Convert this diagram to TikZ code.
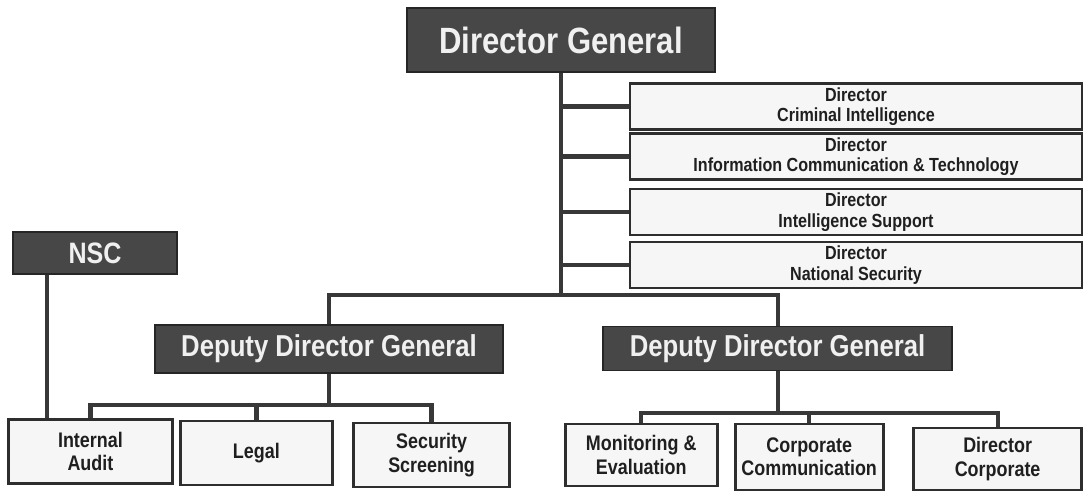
\documentclass[tikz,border=0pt]{standalone}
\usepackage{fontspec}
\newfontfamily\orgfont{Liberation Sans}[FakeStretch=0.85]
\tikzset{
  headbox/.style={draw=black!85, fill=black!72, line width=1.2pt, text=gray!12,
    inner sep=0pt, font=\orgfont\bfseries},
  unitbox/.style={draw=black!82, fill=gray!7, line width=2pt, text=black!88,
    inner sep=0pt, align=center, font=\orgfont\bfseries\fontsize{15}{16.5}\selectfont},
  dirbox/.style={unitbox, minimum width=11.300000cm, minimum height=1.150000cm,
    font=\orgfont\bfseries\fontsize{13.5}{14.5}\selectfont},
  link/.style={draw=black!78, line width=3pt}
}
\begin{document}
\begin{tikzpicture}
  \useasboundingbox (0,0) rectangle (27.175000,12.325000);
  {\orgfont

  % Drawing box Director General
  \node [headbox, minimum width=7.700000cm, minimum height=1.600000cm,
    font=\orgfont\bfseries\fontsize{26}{28}\selectfont] (DG) at (14.025000,11.325000) {Director General};

  % Drawing directors
  \node [dirbox] (CI) at (21.400000,9.660000) {Director\\Criminal Intelligence};
  \node [dirbox] (ICT) at (21.400000,8.410000) {Director\\Information Communication \& Technology};
  \node [dirbox] (IS) at (21.400000,7.025000) {Director\\Intelligence Support};
  \node [dirbox] (NS) at (21.400000,5.700000) {Director\\National Security};

  % Drawing box NSC
  \node [headbox, minimum width=4.100000cm, minimum height=1.050000cm,
    font=\orgfont\bfseries\fontsize{21}{23}\selectfont] (NSC) at (2.375000,6.000000) {NSC};

  % Drawing deputies
  \node [headbox, minimum width=8.700000cm, minimum height=1.200000cm,
    font=\orgfont\bfseries\fontsize{21.5}{23}\selectfont] (DDGa) at (8.225000,3.600000) {Deputy Director General};
  \node [headbox, minimum width=8.730000cm, minimum height=1.100000cm,
    font=\orgfont\bfseries\fontsize{21.5}{23}\selectfont] (DDGb) at (19.440000,3.610000) {Deputy Director General};

  % Drawing units
  \node [unitbox, minimum width=4.100000cm, minimum height=1.600000cm] (IA) at (2.260000,1.030000) {Internal\\Audit};
  \node [unitbox, minimum width=3.800000cm, minimum height=1.600000cm] (LG) at (6.410000,1.000000) {Legal};
  \node [unitbox, minimum width=3.900000cm, minimum height=1.600000cm] (SS) at (10.790000,0.950000) {Security\\Screening};
  \node [unitbox, minimum width=3.800000cm, minimum height=1.550000cm] (ME) at (16.030000,0.950000) {Monitoring \&\\Evaluation};
  \node [unitbox, minimum width=3.700000cm, minimum height=1.650000cm] (CC) at (20.230000,0.900000) {Corporate\\Communication};
  \node [unitbox, minimum width=4.200000cm, minimum height=1.550000cm] (DC) at (24.940000,0.850000) {Director\\Corporate};

  % Drawing links
  \coordinate (hub) at (DG.south |- 0,4.950000);
  \coordinate (barA) at (DDGa.south |- 0,2.200000);
  \coordinate (barB) at (DDGb.south |- 0,2.000000);
  \draw [link] (DG.south) -- (hub);
  \foreach \d in {CI,ICT,IS,NS}
    \draw [link] (\d.west) -- (\d.west -| hub);
  \draw [link] (DDGa.north) |- (hub) -| (DDGb.north);
  \draw [link] ([xshift=-1.200000cm]NSC.south) -- ([xshift=-1.200000cm]NSC.south |- IA.north);
  \draw [link] (DDGa.south) -- (barA);
  \draw [link] (IA.north) |- (barA) -| (SS.north);
  \draw [link] (LG.north) -- (LG.north |- barA);
  \draw [link] (DDGb.south) -- (barB);
  \draw [link] (ME.north) |- (barB) -| (DC.north);
  \draw [link] (CC.north) -- (CC.north |- barB);
  }
\end{tikzpicture}
\end{document}
